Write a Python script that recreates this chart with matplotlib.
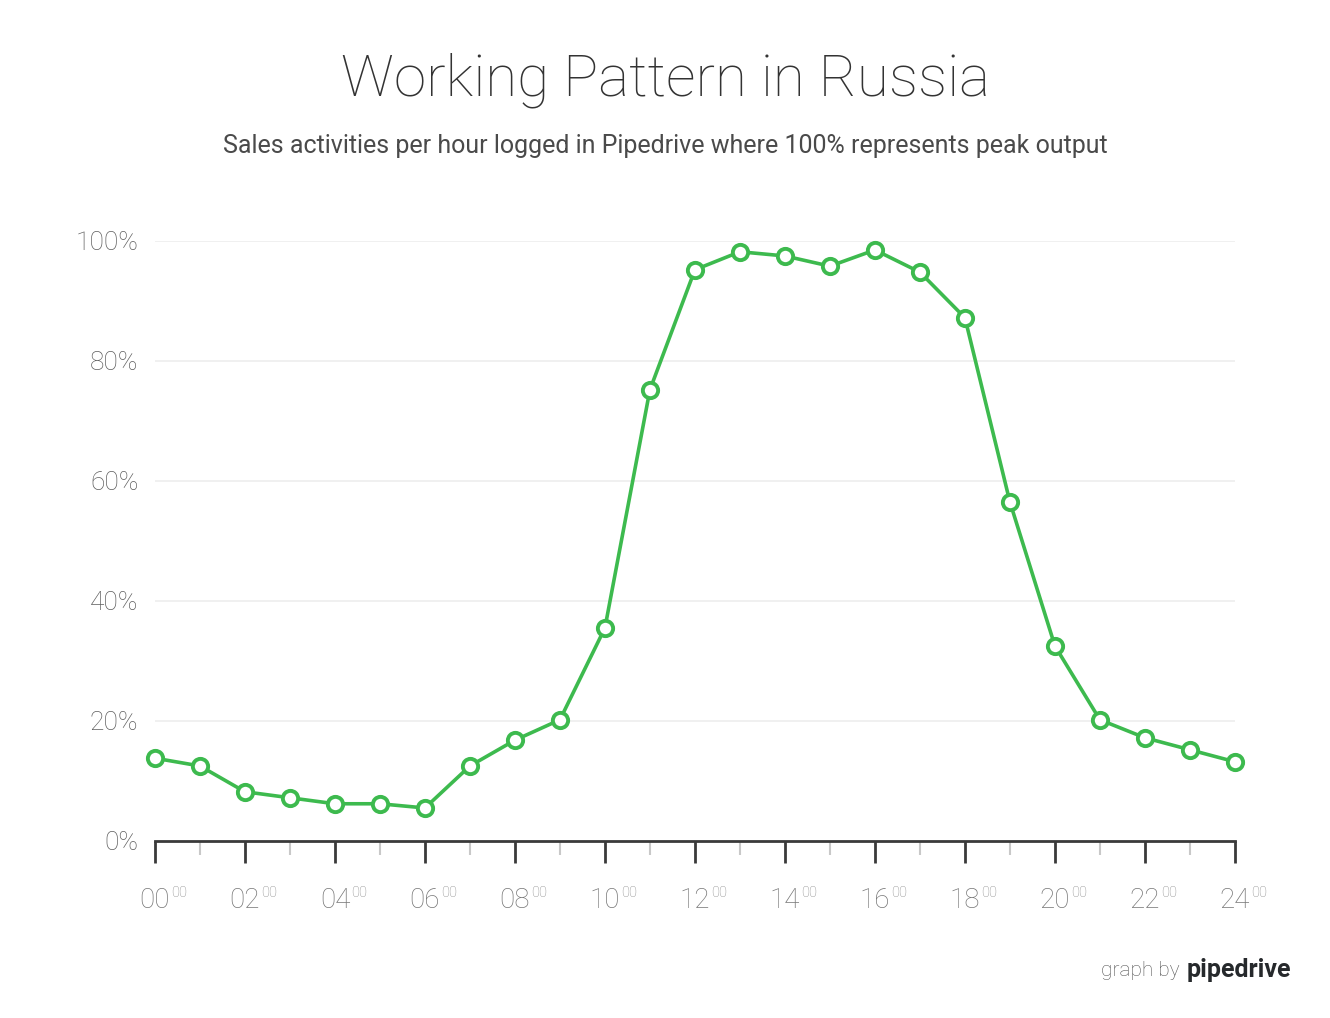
import matplotlib
matplotlib.use("Agg")
import matplotlib.pyplot as plt

# Data (share of peak output per hour)
hours = list(range(25))
activity = [13.8, 12.5, 8.2, 7.2, 6.2, 6.2, 5.5, 12.5, 16.8, 20.2, 35.5, 75.2, 95.2,
            98.2, 97.5, 95.8, 98.5, 94.8, 87.2, 56.5, 32.5, 20.2, 17.2, 15.2, 13.2]
y_ticks = [0, 20, 40, 60, 80, 100]
y_labels = ["0%", "20%", "40%", "60%", "80%", "100%"]
major_hours = list(range(0, 25, 2))
minor_hours = list(range(1, 24, 2))

GREEN = "#3dba4e"
FONT = "Roboto"
LIGHT = "light"

fig = plt.figure(figsize=(13.3, 10.18), dpi=100)
ax = fig.add_axes([0.1165, 0.1739, 0.812, 0.5894])

ax.plot(hours, activity, color=GREEN, lw=2.6, marker="o", ms=11,
        mfc="white", mec=GREEN, mew=2.8, clip_on=False, zorder=3)

ax.set_xlim(0, 24)
ax.set_ylim(0, 100)

# grid
for v in y_ticks[1:]:
    ax.axhline(v, color="#eeeeee", lw=1.2, zorder=0)

for s in ["top", "right", "left"]:
    ax.spines[s].set_visible(False)
ax.spines["bottom"].set_color("#3a3a3a")
ax.spines["bottom"].set_linewidth(2)

ax.set_yticks(y_ticks)
ax.set_yticklabels(y_labels, fontsize=19, color="#5e5e5e", fontfamily=FONT,
                   fontweight=LIGHT)
ax.tick_params(axis="y", length=0, pad=12)

ax.set_xticks(major_hours)
ax.set_xticklabels([])
ax.set_xticks(minor_hours, minor=True)
ax.tick_params(axis="x", which="major", length=16, width=2, color="#3a3a3a",
               direction="out")
ax.tick_params(axis="x", which="minor", length=10, width=1.5, color="#c8c8c8",
               direction="out")

for h in major_hours:
    ax.annotate("%02d" % h, xy=(h, 0), xycoords=("data", "axes fraction"),
                xytext=(0, -43), textcoords="offset points", ha="center", va="center",
                fontsize=20, color="#777777", fontfamily=FONT, fontweight=LIGHT)
    ax.annotate("00", xy=(h, 0), xycoords=("data", "axes fraction"),
                xytext=(12, -37.5), textcoords="offset points", ha="left", va="center",
                fontsize=10.5, color="#888888", fontfamily=FONT, fontweight=LIGHT)

fig.text(0.5, 0.921, "Working Pattern in Russia", ha="center", va="center",
         fontsize=42, color="#333333", fontfamily=FONT, fontweight=LIGHT)
fig.text(0.5, 0.857, "Sales activities per hour logged in Pipedrive where 100% represents peak output",
         ha="center", va="center", fontsize=18, color="#4a4a4a", fontfamily=FONT)

fig.text(0.887, 0.047, "graph by", ha="right", va="center", fontsize=15,
         color="#555555", fontfamily=FONT, fontweight=LIGHT)
fig.text(0.892, 0.047, "pipedrive", ha="left", va="center", fontsize=18,
         color="#26292c", fontfamily=FONT, fontweight="bold")

fig.savefig("out.png", dpi=100, facecolor="white")
